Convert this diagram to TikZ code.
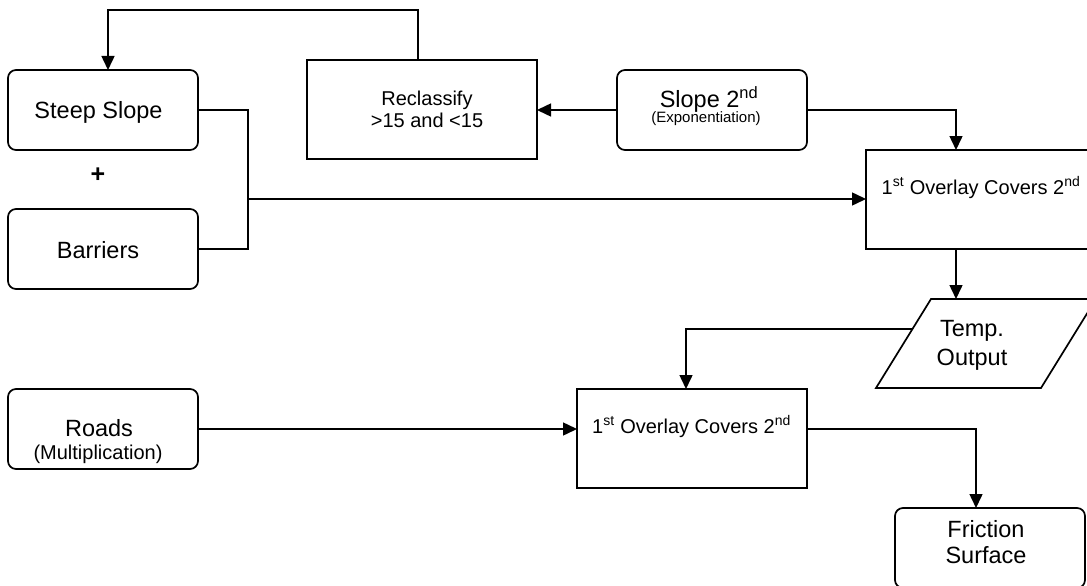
\documentclass[tikz,border=0pt]{standalone}
\usepackage{fontspec}
\setmainfont{Liberation Sans}
\usetikzlibrary{arrows.meta}
\begin{document}
\begin{tikzpicture}[x=1pt,y=-1pt,
  box/.style={draw,line width=1.7pt,inner sep=0pt,outer sep=0pt},
  rbox/.style={box,rounded corners=8pt},
  wire/.style={line width=1.5pt},
  conn/.style={wire,-{Triangle[length=14pt,width=13pt]}},
  big/.style={font=\fontsize{23.5}{28}\selectfont,inner sep=0pt},
  mid/.style={font=\fontsize{20}{21.5}\selectfont,inner sep=0pt},
  small/.style={font=\fontsize{15}{17}\selectfont,inner sep=0pt}]
\clip (0,0) rectangle (1087,586);
% boxes
\node[rbox,minimum width=190pt,minimum height=80pt] (steep) at (103,110) {};
\node[rbox,minimum width=190pt,minimum height=80pt] (barr) at (103,249) {};
\node[box,minimum width=230pt,minimum height=99pt] (recl) at (422,109.5) {};
\node[rbox,minimum width=190pt,minimum height=80pt] (slope) at (712,110) {};
\node[box,minimum width=230pt,minimum height=99pt] (ov1) at (981,199.5) {};
\node[box,minimum width=230pt,minimum height=99pt] (ov2) at (692,438.5) {};
\node[rbox,minimum width=190pt,minimum height=80pt] (roads) at (103,429) {};
\node[rbox,minimum width=190pt,minimum height=80pt] (fric) at (990,548) {};
% parallelogram (temp output)
\draw[box] (931,299) -- (1096,299) -- (1041,388) -- (876,388) -- cycle;
\coordinate (tempT) at (956,299);
\coordinate (tempL) at (912.5,329);
% texts
\node[big,anchor=base] (steept) at (98.5,118.3) {Steep Slope};
\node[big,anchor=base] (barrt) at (98,258.3) {Barriers};
\node[font=\bfseries\fontsize{25}{25}\selectfont,inner sep=0pt] (plus) at (98,175) {+};
\node[mid,anchor=base,align=center] (reclt) at (427,127.5) {Reclassify\\[0pt]{>}15 and {<}15};
\node[big,anchor=base] (slopet) at (709,107.5) {Slope 2\textsuperscript{nd}};
\node[small,anchor=base] (slopes) at (706,122.7) {(Exponentiation)};
\node[mid,anchor=base] (ov1t) at (981,194) {1\textsuperscript{st} Overlay Covers 2\textsuperscript{nd}};
\node[mid,anchor=base] (ov2t) at (691.5,433) {1\textsuperscript{st} Overlay Covers 2\textsuperscript{nd}};
\node[big,anchor=base,align=center,font=\fontsize{23.5}{28.3}\selectfont] (tempt) at (972,365) {Temp.\\Output};
\node[big,anchor=base] (roadst) at (99,436.7) {Roads};
\node[mid,anchor=base] (roadss) at (98,459.5) {(Multiplication)};
\node[big,anchor=base,align=center,font=\fontsize{23.5}{26}\selectfont] (frict) at (986,563.3) {Friction\\Surface};
% connectors
\coordinate (loop) at (108,10);
\draw[conn] ([xshift=-4pt]recl.north) |- (loop) -- ([xshift=5pt]steep.north);
\coordinate (join) at (248,199);
\draw[wire] (steep.east) -| (join);
\draw[wire] (barr.east) -| (join);
\draw[conn] (join) -- (join -| ov1.west);
\draw[conn] (slope.west) -- (slope.west -| recl.east);
\draw[conn] (slope.east) -| ([xshift=-25pt]ov1.north);
\draw[conn] ([xshift=-25pt]ov1.south) -- (tempT);
\draw[conn] (tempL) -| ([xshift=-6pt]ov2.north);
\draw[conn] (roads.east) -- (roads.east -| ov2.west);
\draw[conn] (ov2.east |- roads.east) -| ([xshift=-14pt]fric.north);
\end{tikzpicture}
\end{document}
